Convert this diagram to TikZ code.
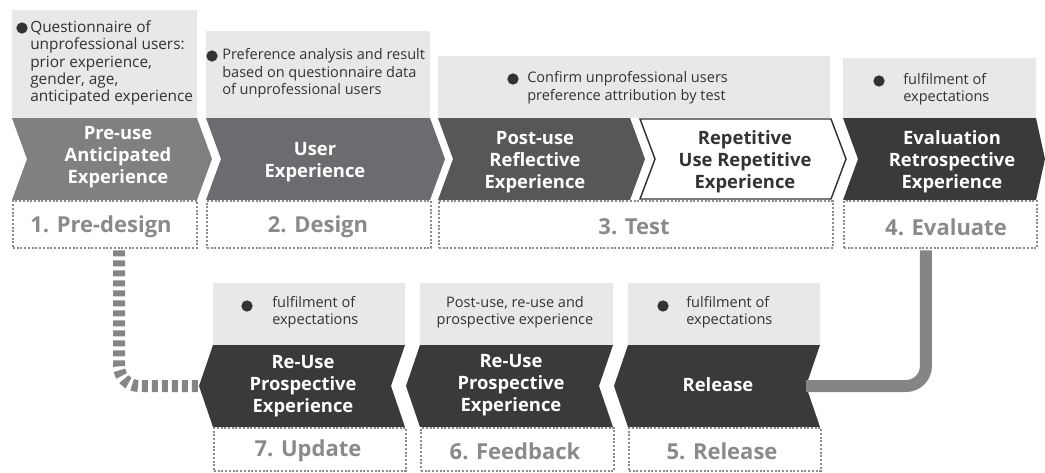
\documentclass[tikz,border=0pt]{standalone}
\usepackage{fontspec}
\setmainfont{Open Sans}
\usetikzlibrary{calc}
\definecolor{boxgray}{HTML}{E8E8E8}
\definecolor{txtdark}{HTML}{333333}
\definecolor{lblgray}{HTML}{8A8A8A}
\definecolor{dotgray}{HTML}{8C8C8C}
\definecolor{chA}{HTML}{808080}
\definecolor{chB}{HTML}{6C6B6F}
\definecolor{chC}{HTML}{575757}
\definecolor{chD}{HTML}{3A3A3A}
\definecolor{connc}{HTML}{858585}
\begin{document}
\begin{tikzpicture}[x=0.75pt,y=-0.75pt,
  graybox/.style={fill=boxgray},
  smalltxt/.style={font=\fontsize{10.9}{13.1}\selectfont, text=txtdark, inner sep=0, align=left},
  bigsmall/.style={smalltxt, font=\fontsize{11.55}{13.1}\selectfont},
  smallc/.style={smalltxt, align=center},
  chevtxt/.style={font=\fontsize{13.8}{16.5}\selectfont\bfseries, text=white, align=center, inner sep=0},
  lbltxt/.style={font=\fontsize{16.5}{20}\selectfont\bfseries, text=lblgray, inner sep=0},
  dotbox/.style={draw=dotgray, line width=1.5pt, dash pattern=on 1.5pt off 1.3pt, inner sep=0},
  bulletdot/.style={circle, fill=txtdark, minimum size=8.5pt, inner sep=0},
  conn/.style={draw=connc, line width=9pt, rounded corners=15pt},
  dconn/.style={draw=connc, line width=9pt, rounded corners=15pt, dash pattern=on 4.5pt off 3pt}
]
\useasboundingbox (0,0) rectangle (1045,472);

% ---------- top row gray boxes ----------
\fill[graybox] (12,10) rectangle (197,118);
\fill[graybox] (206,31) rectangle (430,118);
\fill[graybox] (438,56) rectangle (830,118);
\fill[graybox] (843,58) rectangle (1036,118);

\node[bulletdot] (b1) at (22,28) {};
\node[bigsmall, anchor=west] (t1) at (30,63) {Questionnaire of\\unprofessional users:\\prior experience,\\gender, age,\\anticipated experience};
\node[bulletdot] (b2) at (212,56) {};
\node[smalltxt, anchor=west] (t2) at (222,73.5) {Preference analysis and result\\based on questionnaire data\\of unprofessional users};
\node[bulletdot] (b3) at (513,79) {};
\node[smalltxt, anchor=west] (t3) at (527,87.5) {Confirm unprofessional users\\preference attribution by test};
\node[bulletdot] (b4) at (879,81) {};
\node[smalltxt, anchor=west] (t4) at (903,89) {fulfilment of\\expectations};

% ---------- top row chevrons ----------
\fill[chA] (12,118) -- (197,118) -- (212,159) -- (197,200) -- (12,200) -- (27,159) -- cycle;
\fill[chB] (206,118) -- (430,118) -- (445,159) -- (430,200) -- (206,200) -- (221,159) -- cycle;
\fill[chC] (438,118) -- (630,118) -- (645,159) -- (630,200) -- (438,200) -- (453,159) -- cycle;
\draw[fill=white, draw=txtdark, line width=1.1pt] (640,119) -- (831,119) -- (846,159) -- (831,199) -- (640,199) -- (655,159) -- cycle;
\fill[chD] (843,118) -- (1036,118) -- (1045,159) -- (1036,200) -- (843,200) -- (858,159) -- cycle;

\node[chevtxt] (c1) at (118,157) {Pre-use\\Anticipated\\Experience};
\node[chevtxt] (c2) at (315,162) {User\\Experience};
\node[chevtxt] (c3) at (535,162) {Post-use\\Reflective\\Experience};
\node[chevtxt, text=txtdark] (c4) at (745,162) {Repetitive\\Use Repetitive\\Experience};
\node[chevtxt] (c5) at (952,162) {Evaluation\\Retrospective\\Experience};

% ---------- top row dotted boxes ----------
\node[dotbox, minimum width=138pt, minimum height=35.25pt, anchor=north west] (D1) at (12,200) {};
\node[dotbox, minimum width=168pt, minimum height=35.25pt, anchor=north west] (D2) at (206,200) {};
\node[dotbox, minimum width=295.5pt, minimum height=35.25pt, anchor=north west] (D3) at (438,200) {};
\node[dotbox, minimum width=144.75pt, minimum height=35.25pt, anchor=north west] (D4) at (843,200) {};
\node[lbltxt] (l1) at (101,227) {1. Pre-design};
\node[lbltxt] (l2) at (318,227) {2. Design};
\node[lbltxt] (l3) at (634,227) {3. Test};
\node[lbltxt] (l4) at (946,227) {4. Evaluate};

% ---------- bottom row gray boxes ----------
\fill[graybox] (213,283) rectangle (405,345);
\fill[graybox] (420,283) rectangle (613,345);
\fill[graybox] (628,283) rectangle (820,345);

\node[bulletdot] (b7) at (247,306) {};
\node[smalltxt, anchor=west] (t7) at (272,312) {fulfilment of\\expectations};
\node[smallc] (t6) at (515,312) {Post-use, re-use and\\prospective experience};
\node[bulletdot] (b5) at (663,306) {};
\node[smalltxt, anchor=west] (t5) at (686,312) {fulfilment of\\expectations};

% ---------- bottom row chevrons ----------
\fill[chD] (213,345) -- (405,345) -- (391,386) -- (405,427) -- (213,427) -- (199,386) -- cycle;
\fill[chD] (420,345) -- (613,345) -- (599,386) -- (613,427) -- (420,427) -- (406,386) -- cycle;
\fill[chD] (628,345) -- (820,345) -- (806,386) -- (820,427) -- (628,427) -- (614,386) -- cycle;
\coordinate (tip7) at (199,386);
\coordinate (notch5) at (806,386);

\node[chevtxt] (c7) at (303,386) {Re-Use\\Prospective\\Experience};
\node[chevtxt] (c6) at (511,385) {Re-Use\\Prospective\\Experience};
\node[chevtxt] (c8) at (718,385) {Release};

% ---------- bottom row dotted boxes ----------
\node[dotbox, minimum width=144pt, minimum height=32pt, anchor=north west] (D7) at (213,427) {};
\node[dotbox, minimum width=144.75pt, minimum height=32pt, anchor=north west] (D6) at (420,427) {};
\node[dotbox, minimum width=144pt, minimum height=32pt, anchor=north west] (D5) at (628,427) {};
\node[lbltxt] (l7) at (308,451) {7. Update};
\node[lbltxt] (l6) at (515,451) {6. Feedback};
\node[lbltxt] (l5) at (722,451) {5. Release};

% ---------- connectors ----------
\draw[conn] ([xshift=-10.9pt,yshift=-1pt]D4.south) |- (notch5);
\draw[dconn] ([xshift=10.5pt,yshift=-1pt]D1.south) |- (tip7);
\end{tikzpicture}
\end{document}
